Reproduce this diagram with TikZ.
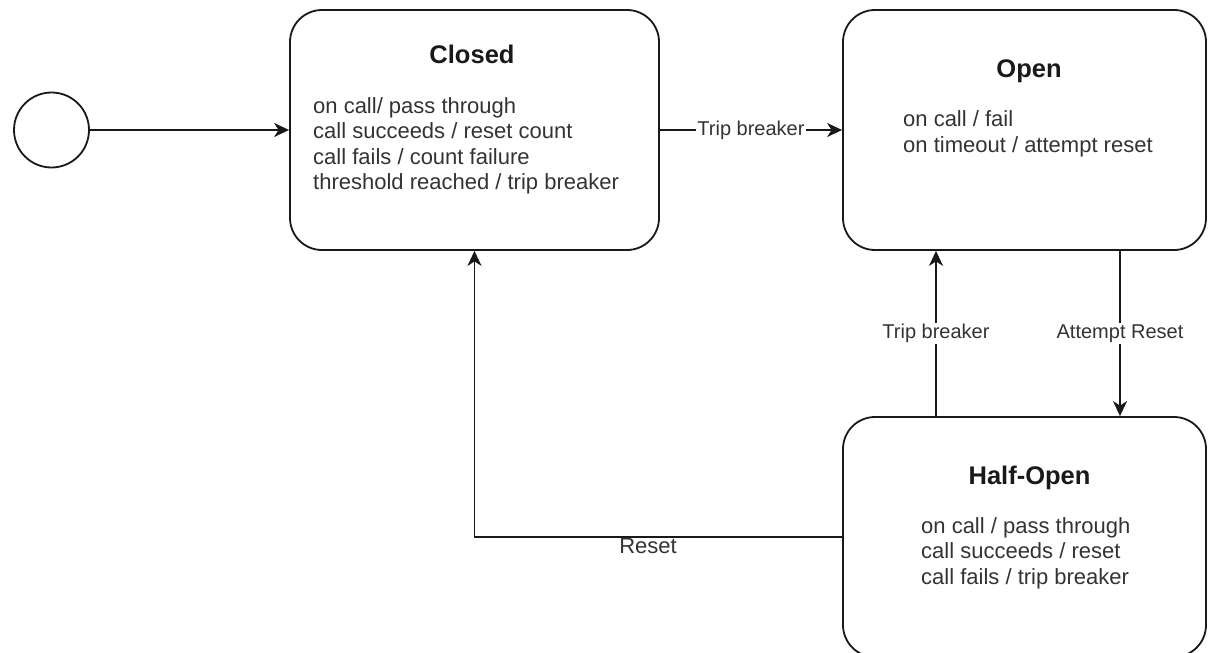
\documentclass[tikz,border=0pt]{standalone}
\usepackage{fontspec}
\setmainfont{Liberation Sans}
\usetikzlibrary{arrows.meta}
\begin{document}
\begin{tikzpicture}[x=1pt,y=-1pt,
  state/.style={draw=black!90, line width=1.8pt, rounded corners=32pt,
    minimum height=240pt, inner sep=0pt},
  start/.style={draw=black!90, line width=1.8pt, circle, minimum size=75pt, inner sep=0pt},
  title/.style={font=\fontsize{25.5}{30}\selectfont\bfseries, text=black!90, inner sep=0pt},
  body/.style={font=\fontsize{22}{25.5}\selectfont, text=black!80, align=left, inner sep=0pt},
  lbl/.style={font=\fontsize{20}{24}\selectfont, text=black!80, fill=white, inner sep=1.5pt},
  arr/.style={draw=black!90, line width=1.8pt, -{Stealth[length=15pt, width=14pt, inset=4.5pt]}}]
\useasboundingbox (0,0) rectangle (1208,653);

% states
\node[start] (init) at (51.5,130) {};
\node[state, minimum width=369pt] (closed) at (474.5,130) {};
\node[state, minimum width=363pt] (open) at (1024.5,130) {};
\node[state, minimum width=363pt] (half) at (1024.5,537) {};

% state texts
\node[title, anchor=base] (closedT) at (472,63) {Closed};
\node[body, anchor=north west] (closedB) at (313,96.9)
  {on call/ pass through\\call succeeds / reset count\\call fails / count failure\\threshold reached / trip breaker};
\node[title, anchor=base] (openT) at (1029,77.4) {Open};
\node[body, anchor=north west] (openB) at (903,110.6)
  {on call / fail\\on timeout / attempt reset};
\node[title, anchor=base] (halfT) at (1029.5,484) {Half-Open};
\node[body, anchor=north west] (halfB) at (921,516.9)
  {on call / pass through\\call succeeds / reset\\call fails / trip breaker};

% transitions
\draw[arr] (init.east) -- (init.east -| closed.west);
\draw[arr] (closed.east) -- (open.west) node[lbl, midway] (tb1) {Trip breaker};
\draw[arr] ([xshift=-88.5pt]half.north) -- ([xshift=-88.5pt]open.south)
  node[lbl, midway] (tb2) {Trip breaker};
\draw[arr] ([xshift=95.5pt]open.south) -- ([xshift=95.5pt]half.north)
  node[lbl, midway] (ar) {Attempt Reset};
\draw[arr] (half.west) -| (closed.south);
\node[font=\fontsize{22}{26}\selectfont, text=black!80, inner sep=0pt, anchor=base] (rs) at (648,553.5) {Reset};
\end{tikzpicture}
\end{document}
